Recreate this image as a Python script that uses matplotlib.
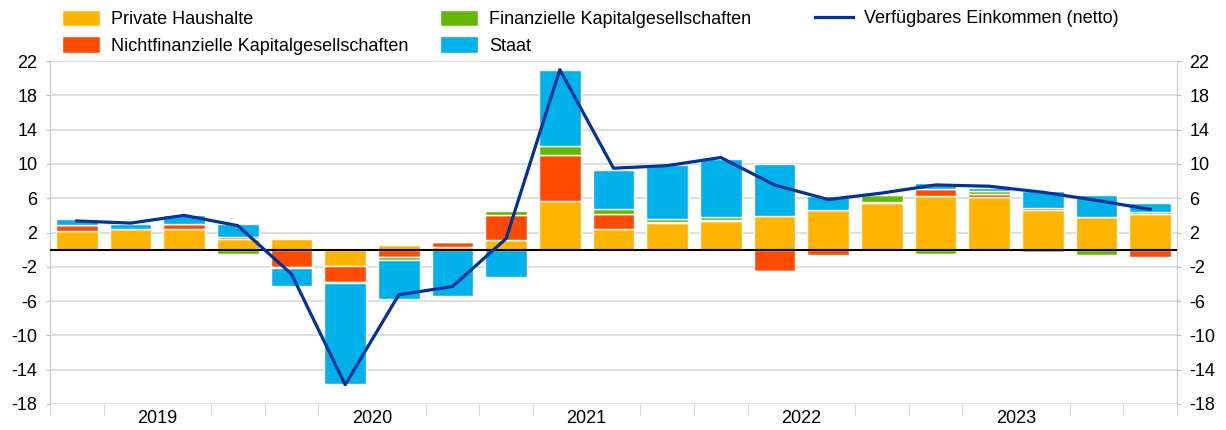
import numpy as np
from matplotlib import pyplot as plt
from matplotlib.patches import Patch
from matplotlib.lines import Line2D

# Quarters 2019Q1 - 2024Q1
years = ['2019', '2020', '2021', '2022', '2023']

# Contributions (percentage points)
households = [2.2, 2.45, 2.4, 1.3, 1.3, -1.85, 0.55, 0.35, 1.1, 5.7, 2.4,
              3.1, 3.3, 3.9, 4.65, 5.5, 6.25, 6.2, 4.6, 3.85, 4.2]
nonfin_corps = [0.65, -0.2, 0.6, 0.2, -2.05, -1.95, -0.85, 0.5, 2.95, 5.4, 1.75,
                0.1, 0.15, -2.45, -0.6, 0.05, 0.8, 0.3, 0.3, 0.0, -0.8]
fin_corps = [0.0, 0.0, 0.05, -0.45, -0.1, -0.1, -0.4, 0.2, 0.5, 1.0, 0.6,
             0.35, 0.4, -0.15, 0.0, 0.8, -0.5, 0.3, -0.25, -0.6, 0.2]
government = [0.7, 0.6, 1.05, 1.55, -2.05, -11.8, -4.5, -5.45, -3.2, 8.8, 4.6,
              6.3, 6.75, 6.1, 1.6, 0.0, 0.7, 0.35, 2.0, 2.55, 1.1]
net_income = [3.35, 3.1, 4.0, 2.8, -2.85, -15.75, -5.25, -4.3, 1.3, 21.0, 9.5,
              9.8, 10.75, 7.55, 5.85, 6.6, 7.55, 7.4, 6.7, 5.75, 4.7]

series = [
    ('Private Haushalte', households, '#FFB400'),
    ('Nichtfinanzielle Kapitalgesellschaften', nonfin_corps, '#FF4B00'),
    ('Finanzielle Kapitalgesellschaften', fin_corps, '#65B800'),
    ('Staat', government, '#00B1EA'),
]
line_color = '#003299'

plt.rcParams['font.family'] = ['Liberation Sans', 'DejaVu Sans']
plt.rcParams['font.size'] = 13
plt.rcParams['axes.unicode_minus'] = False

fig = plt.figure(figsize=(12.26, 4.30), dpi=100)
ax = fig.add_axes([0.0408, 0.0605, 0.9192, 0.7975])

x = np.arange(len(households))
pos_base = np.zeros(len(x))
neg_base = np.zeros(len(x))

# stacked bars, positives up and negatives down
for name, vals, color in series:
    vals = np.array(vals)
    bottom = np.where(vals >= 0, pos_base, neg_base)
    ax.bar(x, vals, width=0.78, bottom=bottom, color=color,
           edgecolor='white', linewidth=1, zorder=2)
    pos_base = pos_base + np.where(vals > 0, vals, 0)
    neg_base = neg_base + np.where(vals < 0, vals, 0)

ax.plot(x, net_income, color=line_color, linewidth=2.3, zorder=4)
ax.axhline(0, color='black', linewidth=1.5, zorder=3)

# y axis, both sides
ticks = np.arange(-18, 23, 4)
ax.set_ylim(-18, 22)
ax.set_yticks(ticks)
ax.grid(axis='y', color='#d9d9d9', linewidth=1.2, zorder=0)
ax.tick_params(axis='y', length=3, color='#bfbfbf', pad=6,
               left=True, right=True, labelleft=True, labelright=True)

# x axis: quarter ticks, year labels in the middle
ax.set_xlim(-0.5, len(x) - 0.5)
ax.set_xticks(np.arange(-0.5, len(x) + 0.5, 1), minor=True)
ax.set_xticks([1.5 + 4 * i for i in range(len(years))])
ax.set_xticklabels(years)
ax.tick_params(axis='x', which='major', length=0, pad=4)
ax.tick_params(axis='x', which='minor', length=8, color='#d0d0d0')

for side in ['top', 'bottom']:
    ax.spines[side].set_visible(False)
for side in ['left', 'right']:
    ax.spines[side].set_color('#c8c8c8')

# legend in three columns
handles = [Patch(facecolor=c, edgecolor='white') for _, _, c in series]
labels = [n for n, _, _ in series]
cols = [(handles[0:2], labels[0:2], 62),
        (handles[2:4], labels[2:4], 440)]
for h, l, px in cols:
    fig.legend(h, l, loc='upper left', bbox_to_anchor=(px / 1226, 1 - 10 / 430),
               frameon=False, borderpad=0, borderaxespad=0, handlelength=2.1,
               handleheight=1.0, handletextpad=0.6, labelspacing=0.45)
fig.legend([Line2D([0], [0], color=line_color, linewidth=2.3)],
           ['Verfügbares Einkommen (netto)'], loc='upper left',
           bbox_to_anchor=(815 / 1226, 1 - 10 / 430), frameon=False,
           borderpad=0, borderaxespad=0, handlelength=2.1, handletextpad=0.6)

fig.savefig('out.png', dpi=100)
